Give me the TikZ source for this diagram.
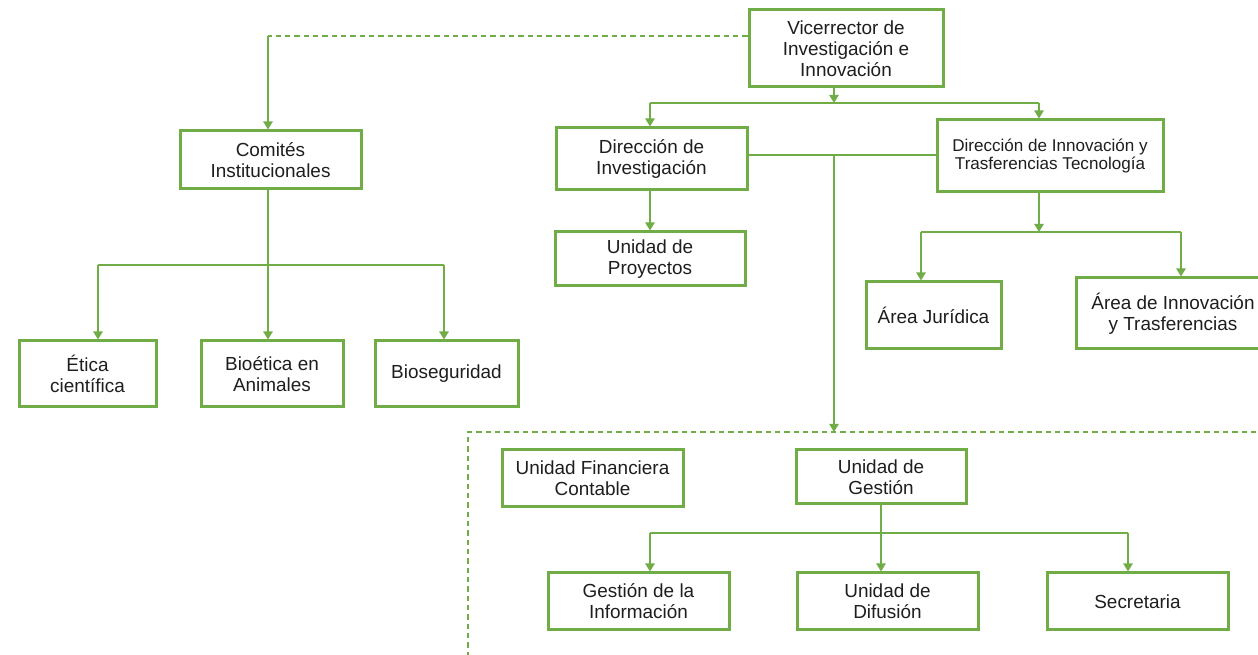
\documentclass[tikz,border=0pt]{standalone}
\usepackage{fontspec}
\setmainfont{Liberation Sans}
\usetikzlibrary{arrows.meta,calc}
\definecolor{grn}{HTML}{70AD47}
\definecolor{txt}{HTML}{1E1E1E}
\begin{document}
\begin{tikzpicture}[x=0.75pt,y=-0.75pt,
  box/.style n args={2}{draw=grn, line width=2.25pt, fill=white,
     minimum width=#1*0.75pt, minimum height=#2*0.75pt, inner sep=0pt,
     align=center, text=txt, font=\fontsize{14.2}{15.75}\selectfont},
  small/.style={font=\fontsize{12.8}{13.5}\selectfont},
  line/.style={draw=grn, line width=1.1pt},
  arr/.style={line, -{Triangle[length=6pt,width=7pt]}},
  dline/.style={line, dash pattern=on 4pt off 3pt}]
\clip (0,0) rectangle (1258,655);
\fill[white] (0,0) rectangle (1258,655);

% dashed region
\coordinate (dtop) at (834,432);
\coordinate (dl) at (468,432);
\draw[dline] (1275,432) -- (dl) -- (468,670);

% nodes
\node[box={194}{77}] (vr) at (846,48.5) {Vicerrector de\\Investigación e\\Innovación};
\node[box={181}{58}] (com) at (270.5,160) {Comités\\Institucionales};
\node[box={191}{62}] (dinv) at (651.5,159) {Dirección de\\Investigación};
\node[box={226}{72},small] (dinn) at (1050,156) {Dirección de Innovación y\\Trasferencias Tecnología};
\node[box={190}{54}] (proy) at (650,259) {Unidad de\\Proyectos};
\node[box={137}{66}] (etica) at (87.5,374) {Ética\\científica};
\node[box={142}{66}] (bioet) at (272,374) {Bioética en\\Animales};
\node[box={143}{66}] (biose) at (446.5,374) {Bioseguridad};
\node[box={135}{67}] (jur) at (933.5,315.5) {Área Jurídica};
\node[box={194}{71}] (ainn) at (1173,313.5) {Área de Innovación\\y Trasferencias};
\node[box={181}{57}] (ufc) at (592.5,478.5) {Unidad Financiera\\Contable};
\node[box={170}{54}] (ug) at (881,477) {Unidad de\\Gestión};
\node[box={181}{57}] (gi) at (638.5,601.5) {Gestión de la\\Información};
\node[box={181}{57}] (ud) at (887.5,601.5) {Unidad de\\Difusión};
\node[box={181}{57}] (sec) at (1137.5,601.5) {Secretaria};

% Vicerrector to directions
\coordinate (b1) at (834,103);
\coordinate (b1L) at (650,103);
\coordinate (b1R) at (1039,103);
\draw[arr] (b1 |- vr.south) -- (b1);
\draw[line] (b1L) -- (b1R);
\draw[arr] (b1L) -- (b1L |- dinv.north);
\draw[arr] (b1R) -- (b1R |- dinn.north);

% Vicerrector to Comites (dashed)
\coordinate (c1) at (268,36);
\draw[dline] (c1 -| vr.west) -- (c1);
\draw[arr] (c1) -- (c1 |- com.north);

% Comites bus
\coordinate (cb) at (268,265);
\coordinate (cbL) at (98,265);
\coordinate (cbR) at (444,265);
\draw[line] (cb |- com.south) -- (cb);
\draw[line] (cbL) -- (cbR);
\draw[arr] (cbL) -- (cbL |- etica.north);
\draw[arr] (cb) -- (cb |- bioet.north);
\draw[arr] (cbR) -- (cbR |- biose.north);

% Direccion link and vertical to dashed region
\coordinate (mid) at (834,155);
\draw[line] (mid -| dinv.east) -- (mid -| dinn.west);
\draw[arr] (mid) -- (dtop);

% Direccion de Investigacion to Proyectos
\draw[arr] (proy.north |- dinv.south) -- (proy.north);

% Direccion de Innovacion bus
\coordinate (db) at (1039,232);
\coordinate (dbL) at (921,232);
\coordinate (dbR) at (1181,232);
\draw[arr] (db |- dinn.south) -- (db);
\draw[line] (dbL) -- (dbR);
\draw[arr] (dbL) -- (dbL |- jur.north);
\draw[arr] (dbR) -- (dbR |- ainn.north);

% Unidad de Gestion bus
\coordinate (gb) at (881,533);
\coordinate (gbL) at (650,533);
\coordinate (gbR) at (1128,533);
\draw[line] (ug.south) -- (gb);
\draw[line] (gbL) -- (gbR);
\draw[arr] (gbL) -- (gbL |- gi.north);
\draw[arr] (gb) -- (gb |- ud.north);
\draw[arr] (gbR) -- (gbR |- sec.north);
\end{tikzpicture}
\end{document}
